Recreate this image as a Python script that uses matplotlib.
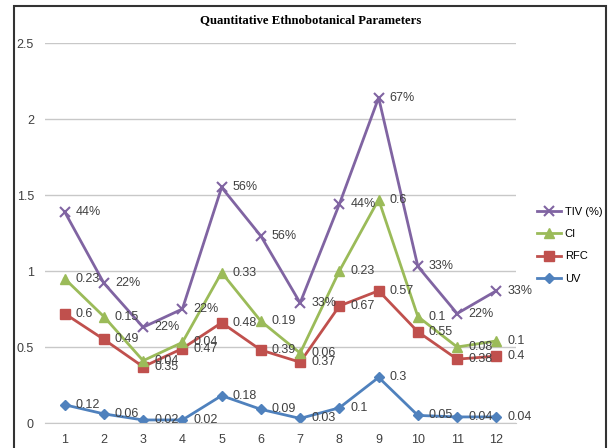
import numpy as np
import matplotlib.pyplot as plt
from matplotlib.patches import Rectangle

categories = [str(i) for i in range(1, 13)]
uv = [0.12, 0.06, 0.02, 0.02, 0.18, 0.09, 0.03, 0.1, 0.3, 0.05, 0.04, 0.04]
rfc = [0.6, 0.49, 0.35, 0.47, 0.48, 0.39, 0.37, 0.67, 0.57, 0.55, 0.38, 0.4]
ci = [0.23, 0.15, 0.04, 0.04, 0.33, 0.19, 0.06, 0.23, 0.6, 0.1, 0.08, 0.1]
tiv = [0.44, 0.22, 0.22, 0.22, 0.56, 0.56, 0.33, 0.44, 0.67, 0.33, 0.22, 0.33]

plt.rcParams['font.family'] = ['Liberation Sans', 'DejaVu Sans']

fig = plt.figure(figsize=(6.09, 4.48), dpi=100)
ax = fig.add_axes([45/609, 1-423/448, (516-45)/609, (423-43)/448])

# stacked line chart, like Excel
series = [
    ("UV", uv, "#4F81BD", "D", 5, lambda v: f"{v:g}"),
    ("RFC", rfc, "#C0504D", "s", 7, lambda v: f"{v:g}"),
    ("CI", ci, "#9BBB59", "^", 7, lambda v: f"{v:g}"),
    ("TIV (%)", tiv, "#8064A2", "x", 7, lambda v: f"{v*100:.0f}%"),
]
x = np.arange(1, 13)
base = np.zeros(12)
handles = []
for name, vals, color, marker, ms, fmt in series:
    top = base + np.array(vals)
    h, = ax.plot(x, top, color=color, marker=marker, markersize=ms, lw=2,
                 mew=1.5 if marker == "x" else 1, label=name)
    handles.append(h)
    for xi, yi, v in zip(x, top, vals):
        ax.annotate(fmt(v), (xi, yi), xytext=(8, 0), textcoords="offset points",
                    ha="left", va="center", fontsize=9, color="#404040")
    base = top

ax.set_xlim(0.5, 12.5)
ax.set_ylim(0, 2.5)
ax.set_xticks(x)
ax.set_xticklabels(categories)
ax.set_yticks([0, 0.5, 1, 1.5, 2, 2.5])
ax.set_yticklabels(["0", "0.5", "1", "1.5", "2", "2.5"])
ax.grid(axis="y", color="#C8C8C8", lw=1)
ax.set_axisbelow(True)
for s in ["top", "right", "left"]:
    ax.spines[s].set_visible(False)
ax.spines["bottom"].set_color("#C8C8C8")
ax.tick_params(length=0, labelsize=9, colors="#404040", pad=8)

fig.text(311/609, 1-20/448, "Quantitative Ethnobotanical Parameters",
         fontsize=9.2, fontweight="bold", family="Liberation Serif",
         ha="center", va="center")

fig.legend(handles[::-1], [h.get_label() for h in handles[::-1]],
           loc="upper left", bbox_to_anchor=(527/609, 1-197/448), frameon=False,
           fontsize=8, handlelength=2.2, labelspacing=1.1, handletextpad=0.3)

fig.patches.append(Rectangle((14/609, -0.05), (606-14)/609, 1.05-6/448,
                             transform=fig.transFigure, fill=False,
                             edgecolor="#333333", lw=1.5))

fig.savefig("out.png", dpi=100)
